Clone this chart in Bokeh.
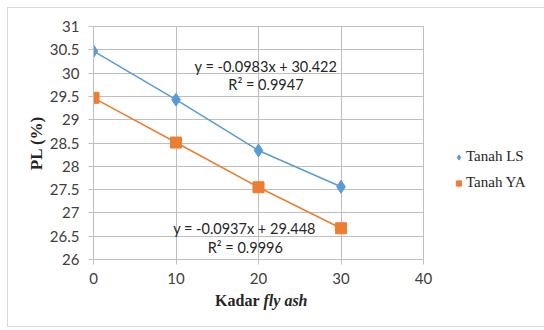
from bokeh.plotting import figure
from bokeh.models import (Range1d, Label, Legend, LegendItem, SingleIntervalTicker)
from bokeh.embed import file_html
from bokeh.resources import INLINE

kadar = [0, 10, 20, 30]
pl_ls = [30.47, 29.43, 28.34, 27.56]
pl_ya = [29.47, 28.51, 27.55, 26.67]
eq_ls = ["y = -0.0983x + 30.422", "R² = 0.9947"]
eq_ya = ["y = -0.0937x + 29.448", "R² = 0.9996"]

BLUE = "#5B9BD5"
ORANGE = "#ED7D31"
GRID = "#BFBFBF"
SANS = "Lato"
SERIF = "Liberation Serif"

p = figure(width=533, height=318, output_backend="svg", toolbar_location=None,
           x_range=Range1d(0, 40), y_range=Range1d(26, 31),
           min_border_left=85, min_border_right=118, min_border_top=18, min_border_bottom=67,
           margin=(7, 0, 0, 7))
p.frame_width = 330
p.frame_height = 233
p.styles = {"border": "1px solid #D9D9D9", "box-sizing": "border-box"}
p.outline_line_color = GRID
p.background_fill_color = "white"
p.border_fill_color = "white"

p.xaxis.ticker = SingleIntervalTicker(interval=10)
p.yaxis.ticker = SingleIntervalTicker(interval=0.5)
p.xgrid.ticker = SingleIntervalTicker(interval=10)
p.ygrid.ticker = SingleIntervalTicker(interval=0.5)
for g in (p.xgrid, p.ygrid):
    g.grid_line_color = GRID
    g.grid_line_width = 1
for ax in (p.xaxis, p.yaxis):
    ax.axis_line_color = GRID
    ax.major_tick_line_color = GRID
    ax.major_tick_out = 5
    ax.major_tick_in = 0
    ax.minor_tick_line_color = None
    ax.major_label_text_font = SANS
    ax.major_label_text_font_size = "15px"
    ax.major_label_text_color = "#404040"
p.yaxis.major_label_standoff = 9
p.xaxis.major_label_standoff = 8
p.yaxis.formatter.use_scientific = False
p.yaxis.axis_label = "PL (%)"
p.yaxis.axis_label_text_font = SERIF
p.yaxis.axis_label_text_font_style = "bold"
p.yaxis.axis_label_text_font_size = "17px"
p.yaxis.axis_label_text_color = "#262626"
p.yaxis.axis_label_standoff = 1

r_ls_line = p.line(kadar, pl_ls, line_color=BLUE, line_width=1.5)
r_ls = p.scatter(kadar, pl_ls, marker="diamond", size=13, fill_color=BLUE, line_color=BLUE)
r_ya_line = p.line(kadar, pl_ya, line_color=ORANGE, line_width=1.5)
r_ya = p.scatter(kadar, pl_ya, marker="square", size=11, fill_color=ORANGE, line_color=ORANGE)

def lab(x, y, t):
    p.add_layout(Label(x=x, y=y, text=t, text_font=SANS, text_font_size="14.5px",
                       text_color="#262626", text_align="center", text_baseline="middle"))

lab(20.9, 30.14, eq_ls[0])
lab(20.9, 29.75, eq_ls[1])
lab(18.3, 26.67, eq_ya[0])
lab(18.4, 26.26, eq_ya[1])

# x axis title in the lower panel
p.add_layout(Label(x=170, y=3, x_units="screen", y_units="screen", text="Kadar ",
                   text_font=SERIF, text_font_style="bold", text_font_size="16px",
                   text_align="right", text_baseline="middle", text_color="#262626"), "below")
p.add_layout(Label(x=170, y=20, x_units="screen", y_units="screen", text="fly ash",
                   text_font=SERIF, text_font_style="bold italic", text_font_size="16px",
                   text_align="left", text_baseline="middle", text_color="#262626"), "below")

legend = Legend(items=[LegendItem(label="Tanah LS", renderers=[r_ls]),
                       LegendItem(label="Tanah YA", renderers=[r_ya])],
                location=(29, 68), border_line_color=None, background_fill_alpha=0,
                label_text_font=SERIF, label_text_font_size="15px", label_text_color="#262626",
                glyph_width=13, glyph_height=16, label_standoff=1, spacing=9, padding=0,
                margin=0)
p.add_layout(legend, "right")

open("out.html", "w").write(file_html(p, INLINE))
